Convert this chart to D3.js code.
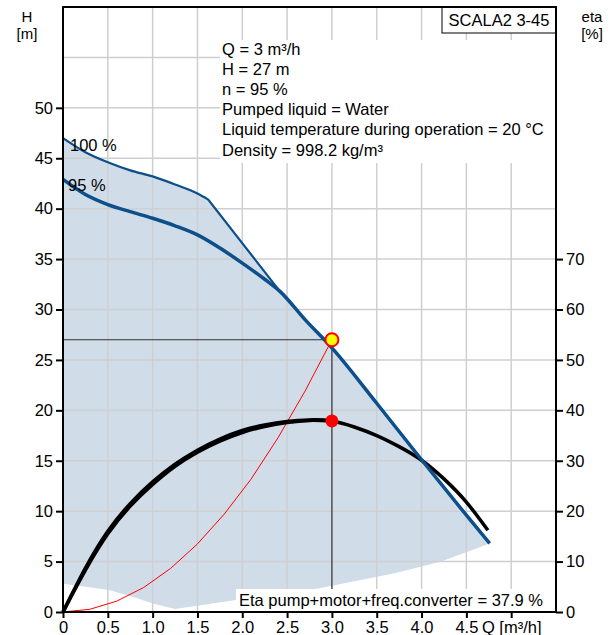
<!DOCTYPE html>
<html>
<head>
<meta charset="utf-8">
<script src="https://cdn.jsdelivr.net/npm/d3@7"></script>
<style>
  body { margin: 0; background: #fff; }
  svg { display: block; font-family: Arial, "Liberation Sans", sans-serif; }
</style>
</head>
<body>
<div id="vis"></div>
<script>

// frame constants
const FRAME_WIDTH = 614;
const FRAME_HEIGHT = 635;
const MARGINS = {left: 63, right: 58, top: 7, bottom: 23};
const VIS_WIDTH = FRAME_WIDTH - MARGINS.left - MARGINS.right;
const VIS_HEIGHT = FRAME_HEIGHT - MARGINS.top - MARGINS.bottom;
const FONT = "16.5px";

// pump curves (Q in m3/h, H in m)
const H100_Q = [0, 0.25, 0.5, 0.75, 1.0, 1.25, 1.5, 1.62, 2.42];
const H100_H = [47.0, 45.6, 44.6, 43.8, 43.2, 42.4, 41.5, 40.9, 31.8];

const H95_Q = [0, 0.25, 0.5, 0.75, 1.0, 1.25, 1.5, 1.75, 2.0, 2.25, 2.42, 2.7, 3.0, 3.5, 4.0, 4.5, 4.76];
const H95_H = [42.9, 41.4, 40.4, 39.7, 39.05, 38.3, 37.4, 36.1, 34.6, 33.0, 31.8, 29.0, 26.2, 20.7, 15.1, 9.6, 6.8];

// lower edge of the operating range
const LOW_Q = [0, 0.5, 0.82, 1.0, 1.25, 2.0, 2.86, 3.7, 4.22, 4.76];
const LOW_H = [2.8, 2.2, 1.4, 0.85, 0.3, 1.3, 2.35, 3.85, 5.0, 6.8];

// efficiency curves (eta in %)
const ETA_Q = [0, 0.25, 0.5, 0.75, 1.0, 1.25, 1.5, 1.75, 2.0, 2.25, 2.5, 2.75, 3.0, 3.25, 3.5, 3.75, 4.0, 4.25, 4.5, 4.74];
const ETA_A = [0, 8.7, 16.0, 21.5, 25.8, 29.3, 32.1, 34.3, 36.0, 37.1, 37.8, 38.1, 37.9, 36.7, 35.0, 32.8, 30.1, 26.4, 21.8, 16.2];
const ETA_B = [0, 8.3, 15.5, 21.0, 25.3, 28.9, 31.7, 33.9, 35.6, 36.8, 37.6, 38.0, 37.9];

// system curve
const SYS_Q = [0, 0.3, 0.6, 0.9, 1.2, 1.5, 1.8, 2.1, 2.4, 2.7, 3.0];
const SYS_H = [0, 0.27, 1.08, 2.43, 4.32, 6.75, 9.72, 13.2, 17.3, 21.9, 27];

// duty point
const OP_Q = 3;
const OP_H = 27;
const OP_ETA = 37.9;

// ticks
const Q_TICKS = [0, 0.5, 1.0, 1.5, 2.0, 2.5, 3.0, 3.5, 4.0, 4.5, 5.0];
const H_TICKS = [0, 5, 10, 15, 20, 25, 30, 35, 40, 45, 50];
const ETA_TICKS = [0, 10, 20, 30, 40, 50, 60, 70];
const Q_GRID = [0.5, 1.0, 1.5, 2.0, 2.5, 3.0, 3.5, 4.0, 4.5, 5.0];
const H_GRID = [5, 10, 15, 20, 25, 30, 35, 40, 45, 50, 55];

const INFO_LINES = ["Q = 3 m³/h", "H = 27 m", "n = 95 %", "Pumped liquid = Water",
                    "Liquid temperature during operation = 20 °C", "Density = 998.2 kg/m³"];

const BLUE = "#0c4f8a";
const SHADE = "#d0dce8";
const GRID = "#cdcfd2";

const SVG = d3.select("#vis")
              .append("svg")
                .attr("width", FRAME_WIDTH)
                .attr("height", FRAME_HEIGHT);

const X_SCALE = d3.scaleLinear().domain([0, 5.5]).range([0, VIS_WIDTH]);
const Y_SCALE = d3.scaleLinear().domain([0, 60]).range([VIS_HEIGHT, 0]);
const ETA_SCALE = d3.scaleLinear().domain([0, 120]).range([VIS_HEIGHT, 0]);

const PLOT = SVG.append("g")
                .attr("transform", "translate(" + MARGINS.left + "," + MARGINS.top + ")");

const zip = (xs, ys) => xs.map((q, i) => [q, ys[i]]);

// shaded operating range
const upper = zip(H100_Q.slice(0, 8), H100_H.slice(0, 8))
                .concat(zip(H95_Q.slice(10), H95_H.slice(10)));
const lower = zip(LOW_Q, LOW_H).reverse();
const areaLine = d3.line()
                   .x(d => X_SCALE(d[0]))
                   .y(d => Y_SCALE(d[1]));
PLOT.append("path")
    .attr("d", areaLine(upper.concat(lower)) + "Z")
    .attr("fill", SHADE);

// grid
PLOT.selectAll(".vgrid")
    .data(Q_GRID)
    .enter()
    .append("line")
      .attr("x1", d => X_SCALE(d)).attr("x2", d => X_SCALE(d))
      .attr("y1", 0).attr("y2", VIS_HEIGHT)
      .attr("stroke", GRID).attr("stroke-width", 1.5);

PLOT.selectAll(".hgrid")
    .data(H_GRID)
    .enter()
    .append("line")
      .attr("x1", 0).attr("x2", VIS_WIDTH)
      .attr("y1", d => Y_SCALE(d)).attr("y2", d => Y_SCALE(d))
      .attr("stroke", GRID).attr("stroke-width", 1.5);

// info text block
PLOT.append("rect")
    .attr("x", 157).attr("y", 33)
    .attr("width", VIS_WIDTH - 157).attr("height", 123)
    .attr("fill", "#fff");

PLOT.selectAll(".info")
    .data(INFO_LINES)
    .enter()
    .append("text")
      .attr("x", 159)
      .attr("y", (d, i) => 48 + i * 20.1)
      .attr("font-size", FONT)
      .text(d => d);

// duty point guide lines
PLOT.append("polyline")
    .attr("points", [[X_SCALE(0), Y_SCALE(OP_H)], [X_SCALE(OP_Q), Y_SCALE(OP_H)], [X_SCALE(OP_Q), Y_SCALE(0)]].join(" "))
    .attr("fill", "none")
    .attr("stroke", "#333")
    .attr("stroke-width", 1.2);

const hLine = d3.line()
                .x(d => X_SCALE(d[0]))
                .y(d => Y_SCALE(d[1]))
                .curve(d3.curveMonotoneX);

const etaLine = d3.line()
                  .x(d => X_SCALE(d[0]))
                  .y(d => ETA_SCALE(d[1]))
                  .curve(d3.curveNatural);

// system curve
PLOT.append("path")
    .attr("d", d3.line().x(d => X_SCALE(d[0])).y(d => Y_SCALE(d[1]))(zip(SYS_Q, SYS_H)))
    .attr("fill", "none")
    .attr("stroke", "red")
    .attr("stroke-width", 1);

// efficiency curves
PLOT.append("path")
    .attr("d", etaLine(zip(ETA_Q.slice(0, ETA_B.length), ETA_B)))
    .attr("fill", "none")
    .attr("stroke", "#000")
    .attr("stroke-width", 3.5);

PLOT.append("path")
    .attr("d", etaLine(zip(ETA_Q, ETA_A)))
    .attr("fill", "none")
    .attr("stroke", "#000")
    .attr("stroke-width", 3.5);

// pump curves: 100 % is smooth up to the kink, then straight
const kink = H100_Q.length - 1;
PLOT.append("path")
    .attr("d", hLine(zip(H100_Q.slice(0, kink), H100_H.slice(0, kink)))
               + "L" + X_SCALE(H100_Q[kink]) + "," + Y_SCALE(H100_H[kink]))
    .attr("fill", "none")
    .attr("stroke", BLUE)
    .attr("stroke-width", 2.2);

PLOT.append("path")
    .attr("d", hLine(zip(H95_Q, H95_H)))
    .attr("fill", "none")
    .attr("stroke", BLUE)
    .attr("stroke-width", 3.5);

// curve labels
PLOT.append("text")
    .attr("x", X_SCALE(0) + 7).attr("y", Y_SCALE(H100_H[0]) + 13)
    .attr("font-size", FONT).text("100 %");
PLOT.append("text")
    .attr("x", X_SCALE(0) + 5).attr("y", Y_SCALE(H95_H[0]) + 12)
    .attr("font-size", FONT).text("95 %");

// duty point markers
PLOT.append("circle")
    .attr("cx", X_SCALE(OP_Q)).attr("cy", Y_SCALE(OP_H)).attr("r", 6.5)
    .attr("fill", "#ffff00").attr("stroke", "red").attr("stroke-width", 2);
PLOT.append("circle")
    .attr("cx", X_SCALE(OP_Q)).attr("cy", ETA_SCALE(OP_ETA)).attr("r", 6.5)
    .attr("fill", "red");

// eta label
PLOT.append("rect")
    .attr("x", 173).attr("y", VIS_HEIGHT - 23)
    .attr("width", VIS_WIDTH - 173).attr("height", 23)
    .attr("fill", "#fff");
PLOT.append("text")
    .attr("x", 176).attr("y", VIS_HEIGHT - 6)
    .attr("font-size", FONT)
    .text("Eta pump+motor+freq.converter = " + OP_ETA + " %");

// model box
PLOT.append("rect")
    .attr("x", 379).attr("y", 0)
    .attr("width", VIS_WIDTH - 379).attr("height", 26)
    .attr("fill", "#fff").attr("stroke", "#000").attr("stroke-width", 1);
PLOT.append("text")
    .attr("x", (379 + VIS_WIDTH) / 2).attr("y", 19)
    .attr("text-anchor", "middle")
    .attr("font-size", FONT)
    .text("SCALA2 3-45");

// frame
PLOT.append("rect")
    .attr("x", 0).attr("y", 0)
    .attr("width", VIS_WIDTH).attr("height", VIS_HEIGHT)
    .attr("fill", "none").attr("stroke", "#000").attr("stroke-width", 2);

// axes
const xAxis = PLOT.append("g")
    .attr("transform", "translate(0," + VIS_HEIGHT + ")")
    .call(d3.axisBottom(X_SCALE).tickValues(Q_TICKS).tickSize(6).tickPadding(3)
            .tickFormat(d => d === 0 ? "0" : (d === 5 ? "Q [m³/h]" : d.toFixed(1))));

const yAxis = PLOT.append("g")
    .call(d3.axisLeft(Y_SCALE).tickValues(H_TICKS).tickSize(7).tickPadding(3));

const etaAxis = PLOT.append("g")
    .attr("transform", "translate(" + VIS_WIDTH + ",0)")
    .call(d3.axisRight(ETA_SCALE).tickValues(ETA_TICKS).tickSize(7).tickPadding(3));

[xAxis, yAxis, etaAxis].forEach(g => {
  g.attr("font-size", FONT).attr("font-family", "Arial, 'Liberation Sans', sans-serif");
  g.select(".domain").remove();
  g.selectAll(".tick line").attr("stroke", "#000").attr("stroke-width", 2);
  g.selectAll(".tick text").attr("fill", "#000");
});

// axis titles
SVG.append("text").attr("x", 27).attr("y", 22).attr("text-anchor", "middle")
   .attr("font-size", "15px").text("H");
SVG.append("text").attr("x", 27).attr("y", 39).attr("text-anchor", "middle")
   .attr("font-size", "15px").text("[m]");
SVG.append("text").attr("x", 592).attr("y", 22).attr("text-anchor", "middle")
   .attr("font-size", "15px").text("eta");
SVG.append("text").attr("x", 592).attr("y", 39).attr("text-anchor", "middle")
   .attr("font-size", "15px").text("[%]");

</script>
</body>
</html>
